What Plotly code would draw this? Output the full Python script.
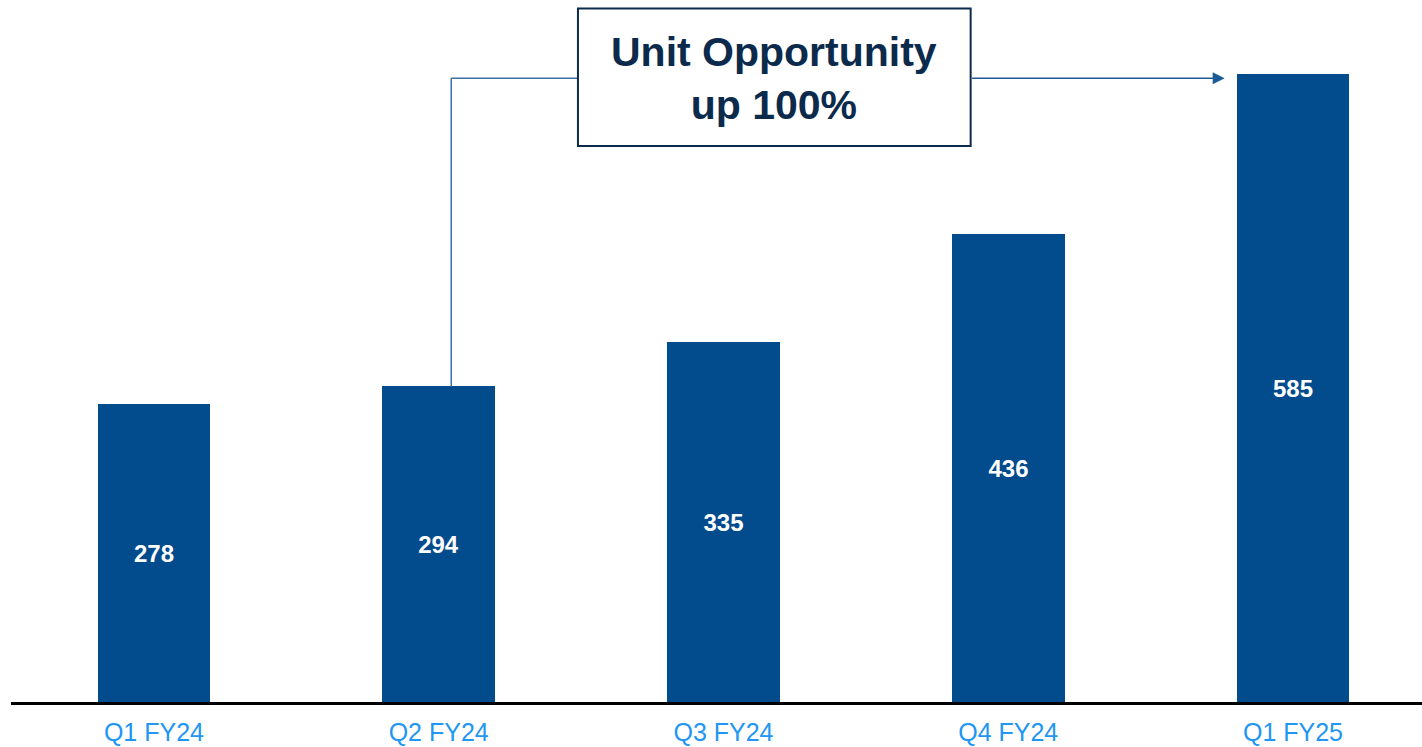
import plotly.graph_objects as go

quarters = ["Q1 FY24", "Q2 FY24", "Q3 FY24", "Q4 FY24", "Q1 FY25"]
units = [278, 294, 335, 436, 585]
callout_text = "Unit Opportunity<br>up 100%"

BAR = "#024b8c"
NAVY = "#0c2b4c"
LINK = "#3a6ea5"

xs = list(range(len(quarters)))

fig = go.Figure(
    go.Bar(
        x=xs,
        y=units,
        width=0.396,
        marker=dict(color=BAR, line=dict(width=0)),
        text=[str(v) for v in units],
        textposition="inside",
        insidetextanchor="middle",
        textfont=dict(family="Liberation Sans, Arial", size=24, color="white",
                      weight="bold"),
        textangle=0,
        hoverinfo="skip",
    )
)

# callout geometry (data coords)
box_x0, box_x1 = 1.489, 2.868
box_y0, box_y1 = 518, 646
link_y = 581
link_x = 1.044

# connector from Q2 bar up to the box
fig.add_shape(type="line", x0=link_x, x1=link_x, y0=units[1], y1=link_y,
              line=dict(color=LINK, width=1.5))
fig.add_shape(type="line", x0=link_x, x1=box_x0, y0=link_y, y1=link_y,
              line=dict(color=LINK, width=1.5))
fig.add_shape(type="rect", x0=box_x0, x1=box_x1, y0=box_y0, y1=box_y1,
              line=dict(color=NAVY, width=2), fillcolor="white")

# arrow from box to the last bar
fig.add_annotation(x=3.76, y=link_y, ax=box_x1, ay=link_y,
                   xref="x", yref="y", axref="x", ayref="y",
                   text="", showarrow=True, arrowhead=2, arrowsize=1.6,
                   arrowwidth=1.5, arrowcolor="#1c5a98")

fig.add_annotation(x=(box_x0 + box_x1) / 2, y=(box_y0 + box_y1) / 2 - 1,
                   xref="x", yref="y", text=f"<b>{callout_text}</b>",
                   showarrow=False,
                   font=dict(family="Liberation Sans, Arial", size=41, color=NAVY))

fig.update_layout(
    width=1422,
    height=747,
    margin=dict(l=11, r=0, t=0, b=45),
    plot_bgcolor="white",
    paper_bgcolor="white",
    showlegend=False,
    bargap=0,
)
fig.update_xaxes(
    range=[-0.502, 4.453],
    tickmode="array",
    tickvals=xs,
    ticktext=quarters,
    showline=True,
    linecolor="black",
    linewidth=2.5,
    showgrid=False,
    zeroline=False,
    ticks="",
    ticklabelstandoff=6,
    tickfont=dict(family="Liberation Sans, Arial", size=25, color="#2196f3"),
)
fig.update_yaxes(range=[0, 654], visible=False, showgrid=False, zeroline=False)

# drop the default page margin so the figure fills the window
fig.write_html("out.html", config={"displayModeBar": False},
               post_script="document.body.style.margin='0';")
